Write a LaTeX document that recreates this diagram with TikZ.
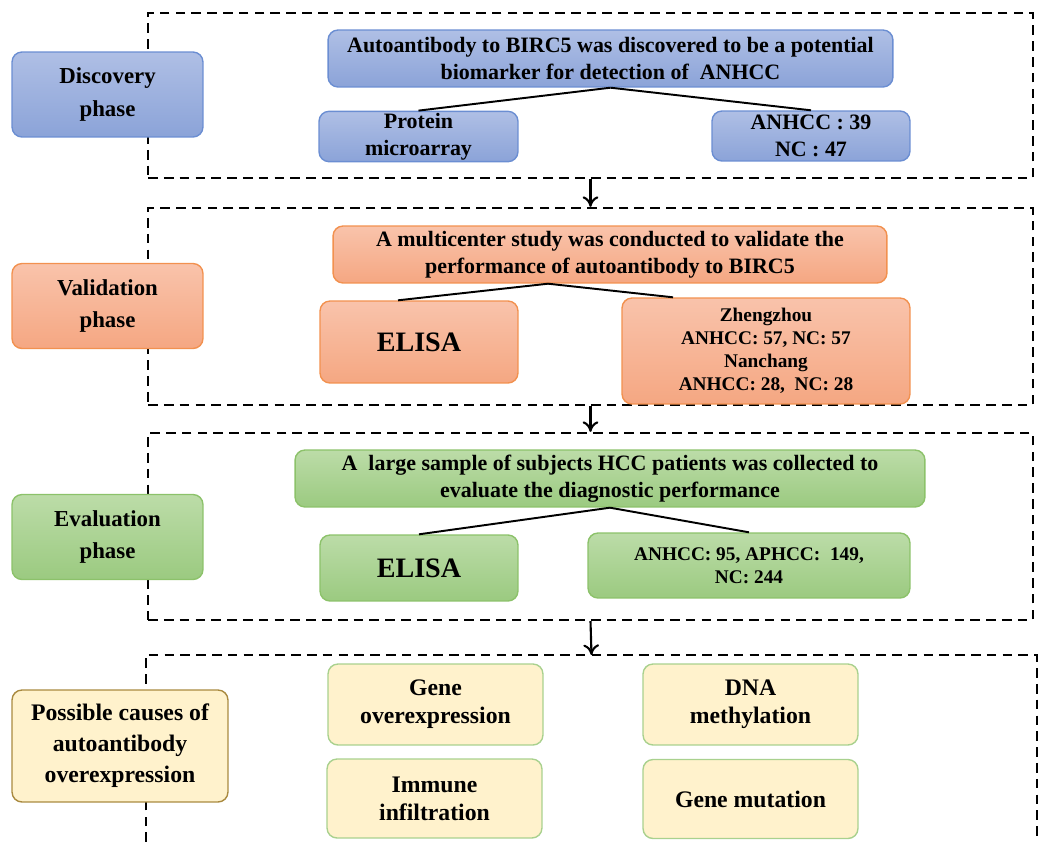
\documentclass[tikz,border=0pt]{standalone}
\usepackage{fontspec}
\setmainfont{Liberation Serif}
\usetikzlibrary{arrows.meta}

\definecolor{blueT}{HTML}{AFBFE5}
\definecolor{blueB}{HTML}{8BA3D8}
\definecolor{blueD}{HTML}{6B8ED2}
\definecolor{orangeT}{HTML}{F9C3AB}
\definecolor{orangeB}{HTML}{F5A782}
\definecolor{orangeD}{HTML}{F2914F}
\definecolor{greenT}{HTML}{BCDCA8}
\definecolor{greenB}{HTML}{9BCA80}
\definecolor{greenD}{HTML}{8CC26A}
\definecolor{yellowF}{HTML}{FFF2CC}
\definecolor{yellowD}{HTML}{A98A3F}
\definecolor{yellowG}{HTML}{A9D18E}

\begin{document}
\begin{tikzpicture}[x=0.02cm, y=-0.02cm,
    box/.style={rounded corners=0.2cm, line width=0.8pt, align=center, inner sep=1pt},
    bluebox/.style={box, draw=blueD, top color=blueT, bottom color=blueB},
    orangebox/.style={box, draw=orangeD, top color=orangeT, bottom color=orangeB},
    greenbox/.style={box, draw=greenD, top color=greenT, bottom color=greenB},
    yellowbox/.style={box, draw=yellowG, fill=yellowF},
    phasefont/.style={font=\fontsize{13}{18.7}\selectfont\bfseries},
    topfont/.style={font=\fontsize{12.5}{15.3}\selectfont\bfseries},
    bigfont/.style={font=\fontsize{16}{19}\selectfont\bfseries},
    smallfont/.style={font=\fontsize{11}{13}\selectfont\bfseries},
    group/.style={draw, dash pattern=on 5.5pt off 3.5pt, line width=1.3pt},
    link/.style={line width=1.1pt},
    flow/.style={-{To[length=6pt,width=9pt]}, line width=1.2pt}]
  \useasboundingbox (0,0) rectangle (1039,842);

  % dashed frames
  \node[group, minimum width=17.7cm, minimum height=3.3cm] (g1) at (590.5,95.5) {};
  \node[group, minimum width=17.7cm, minimum height=3.94cm] (g2) at (590.5,306.5) {};
  \node[group, minimum width=17.7cm, minimum height=3.74cm] (g3) at (590.5,526.5) {};
  \draw[group] (146,842) |- (591.5,655) coordinate (g4) -| (1037,842);

  % phases
  \node[bluebox, phasefont, minimum width=3.82cm, minimum height=1.7cm] (dis) at (107.5,94.5) {Discovery\\phase};
  \node[orangebox, phasefont, minimum width=3.82cm, minimum height=1.7cm] (val) at (107.5,306) {Validation\\phase};
  \node[greenbox, phasefont, minimum width=3.82cm, minimum height=1.7cm] (eva) at (107.5,537) {Evaluation\\phase};
  \node[box, draw=yellowD, fill=yellowF, font=\fontsize{13.5}{17.6}\selectfont\bfseries, minimum width=4.32cm, minimum height=2.24cm] (cau) at (120,746) {Possible causes of\\autoantibody\\overexpression};

  % discovery
  \node[bluebox, topfont, minimum width=11.3cm, minimum height=1.14cm] (d0) at (610.5,58.5) {Autoantibody to BIRC5 was discovered to be a potential\\biomarker for detection of~~ANHCC};
  \node[bluebox, topfont, minimum width=3.98cm, minimum height=0.98cm] (d1) at (418.5,136.5) {Protein\\microarray};
  \node[bluebox, topfont, minimum width=3.96cm, minimum height=1cm] (d2) at (811,136) {ANHCC : 39\\NC : 47};
  \draw[link] (d0.south) -- (d1.north);
  \draw[link] (d0.south) -- (d2.north);

  % validation
  \node[orangebox, topfont, minimum width=11.08cm, minimum height=1.14cm] (v0) at (610,254.5) {A multicenter study was conducted to validate the\\performance of autoantibody to BIRC5};
  \node[orangebox, bigfont, minimum width=3.96cm, minimum height=1.64cm] (v1) at (419,342) {ELISA};
  \node[orangebox, smallfont, minimum width=5.76cm, minimum height=2.12cm] (v2) at (766,351) {Zhengzhou\\ANHCC: 57, NC: 57\\Nanchang\\ANHCC: 28,~~NC: 28};
  \draw[link] ([xshift=-1.24cm]v0.south) -- ([xshift=-0.42cm]v1.north);
  \draw[link] ([xshift=-1.24cm]v0.south) -- ([xshift=-1.86cm]v2.north);

  % evaluation
  \node[greenbox, topfont, minimum width=12.6cm, minimum height=1.14cm] (e0) at (610,478.5) {A~~large sample of subjects HCC patients was collected to\\evaluate the diagnostic performance};
  \node[greenbox, bigfont, minimum width=3.96cm, minimum height=1.32cm] (e1) at (419,568) {ELISA};
  \node[greenbox, font=\fontsize{11}{13}\selectfont\bfseries, minimum width=6.44cm, minimum height=1.3cm] (e2) at (749,565.5) {ANHCC: 95, APHCC:~~149,\\NC: 244};
  \draw[link] (e0.south) -- (e1.north);
  \draw[link] (e0.south) -- (e2.north);

  % causes
  \node[yellowbox, font=\fontsize{13.5}{16}\selectfont\bfseries, minimum width=4.3cm, minimum height=1.62cm] (c1) at (435.5,704.5) {Gene\\overexpression};
  \node[yellowbox, font=\fontsize{13.5}{16}\selectfont\bfseries, minimum width=4.3cm, minimum height=1.62cm] (c2) at (750.5,704.5) {DNA\\methylation};
  \node[yellowbox, font=\fontsize{13.5}{16}\selectfont\bfseries, minimum width=4.3cm, minimum height=1.58cm] (c3) at (434.5,798.5) {Immune\\infiltration};
  \node[yellowbox, font=\fontsize{13.5}{16}\selectfont\bfseries, minimum width=4.3cm, minimum height=1.58cm] (c4) at (750.5,799) {Gene mutation};

  % flow between phases
  \draw[flow] (g1.south) -- (g2.north);
  \draw[flow] (g2.south) -- (g3.north);
  \draw[flow] (g3.south) -- (g4);
\end{tikzpicture}
\end{document}
